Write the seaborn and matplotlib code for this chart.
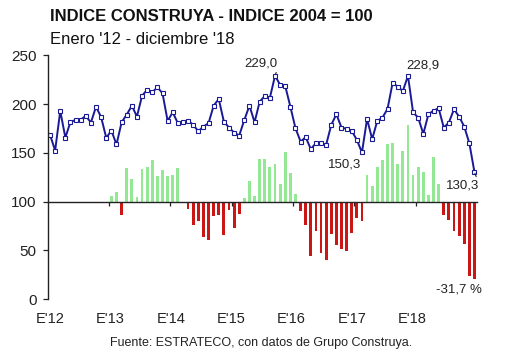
import matplotlib
matplotlib.use("Agg")
import matplotlib.pyplot as plt
import seaborn as sns
import numpy as np
import pandas as pd

# ---- data ----
index_values = [
    168.4, 152.3, 192.9, 165.6, 181.6, 183.7, 184.0, 187.8, 181.0, 197.3, 186.4, 165.3,
    172.8, 158.5, 181.3, 189.1, 198.3, 187.1, 208.5, 214.6, 211.9, 217.2, 210.9, 182.7,
    191.5, 180.3, 181.3, 183.0, 178.6, 172.1, 176.9, 180.3, 198.3, 205.1, 181.9, 175.9,
    170.7, 167.7, 183.7, 198.3, 181.3, 202.4, 208.2, 206.4, 229.0, 219.7, 218.4, 197.3,
    175.2, 161.5, 166.0, 153.8, 159.9, 159.9, 158.2, 178.6, 189.5, 175.9, 174.5, 172.4,
    163.3, 150.3, 184.7, 164.0, 182.7, 186.0, 194.9, 221.7, 217.7, 213.3, 228.9, 191.5,
    186.0, 169.4, 189.5, 193.2, 195.6, 175.9, 181.0, 194.6, 187.1, 176.9, 159.9, 130.3,
]
# year-on-year change (%), Jan 2013 - Dec 2018
pct_change = [
    2.3, 4.0, -5.7, 13.9, 9.1, 1.8, 13.2, 14.3, 17.0, 10.5, 12.9, 10.6,
    10.9, 13.9, -0.4, -3.1, -9.8, -7.9, -14.5, -15.9, -5.8, -5.4, -13.6, -3.4,
    -10.9, -5.0, 1.4, 8.4, 2.3, 17.3, 17.3, 14.3, 15.5, 7.2, 20.2, 11.6,
    3.1, -3.7, -9.5, -22.2, -12.2, -21.1, -23.8, -13.3, -17.7, -19.4, -20.1, -12.7,
    -6.8, -7.8, 10.9, 6.5, 14.3, 17.0, 23.6, 24.2, 15.4, 20.8, 31.3, 10.9,
    14.3, 12.0, 2.7, 18.4, 7.2, -5.4, -7.5, -12.0, -14.3, -17.4, -30.6, -31.7,
]
year_labels = ["E'12", "E'13", "E'14", "E'15", "E'16", "E'17", "E'18"]

months = np.arange(len(index_values))
bar_months = months[len(index_values) - len(pct_change):]

df_line = pd.DataFrame({"m": months, "v": index_values})
df_bar = pd.DataFrame({"m": bar_months, "p": pct_change})
df_bar["s"] = np.where(df_bar["p"] >= 0, "pos", "neg")

NAVY = "#1a1a96"
GREEN = "#93e893"
RED = "#cc1515"

sns.set_theme(style="white")
plt.rcParams["font.family"] = ["Liberation Sans", "DejaVu Sans"]

fig = plt.figure(figsize=(5.30, 3.54), dpi=100)
ax = fig.add_axes([0.091, 0.155, 0.809, 0.689])

# bars on the (hidden) percentage axis
sns.barplot(data=df_bar, x="m", y="p", hue="s", palette={"pos": GREEN, "neg": RED},
            native_scale=True, dodge=False, width=0.55, legend=False, ax=ax,
            linewidth=0, saturation=1)
ax.set_ylim(-40, 60)
ax.set_yticks([])
for s in ax.spines.values():
    s.set_visible(False)
ax.set_xlabel("")
ax.set_ylabel("")

# line on the index axis
ax2 = ax.twinx()
sns.lineplot(data=df_line, x="m", y="v", ax=ax2, color=NAVY, linewidth=1.4,
             marker="s", markersize=3.1, markerfacecolor="white",
             markeredgecolor=NAVY, markeredgewidth=0.8)
ax2.set_ylim(0, 250)
ax2.set_yticks([0, 50, 100, 150, 200, 250])
ax2.yaxis.tick_left()
ax2.yaxis.set_label_position("left")
ax2.set_ylabel("")
ax2.set_xlabel("")
for k in ["top", "right", "bottom"]:
    ax2.spines[k].set_visible(False)
ax2.spines["left"].set_visible(True)
ax2.spines["left"].set_color("#222222")
ax2.spines["left"].set_linewidth(1.0)
ax2.tick_params(axis="y", direction="out", length=3.5, width=0.9, color="#222222",
                labelsize=11, pad=5, left=True, right=False, labelcolor="#222222")

ax.set_xlim(-0.35, 83.5)
ax2.set_xlim(-0.35, 83.5)

# year labels at bottom
ax.set_xticks([k * 11.8 for k in range(len(year_labels))])
ax.set_xticklabels(year_labels)
ax.tick_params(axis="x", length=0, labelsize=10.5, pad=9, labelcolor="#222222", bottom=True)
ax2.tick_params(axis="x", bottom=False, labelbottom=False)

# baseline at 100 with year separators
sec = ax2.secondary_xaxis(0.4)
sec.set_xticks([12 * k - 0.5 for k in range(1, len(year_labels))])
sec.set_xticklabels([])
sec.tick_params(axis="x", direction="out", length=3, width=0.9, color="#222222")
sec.spines["bottom"].set_color("#222222")
sec.spines["bottom"].set_linewidth(1.0)
for k in ["top", "left", "right"]:
    sec.spines[k].set_visible(False)

# annotations
def fmt(v):
    return f"{v:.1f}".replace(".", ",")

i_max1 = int(np.argmax(index_values[:60]))
i_max2 = 60 + int(np.argmax(index_values[60:]))
i_min = 48 + int(np.argmin(index_values[48:72]))
i_last = len(index_values) - 1
ann_kw = dict(textcoords="offset points", fontsize=9.5, color="#222222",
              ha="center", va="center")
ax2.annotate(fmt(index_values[i_max1]), xy=(i_max1, index_values[i_max1]),
             xytext=(-10, 9), arrowprops=dict(arrowstyle="-", lw=0.8, color="#222222",
                                              shrinkA=0, shrinkB=1, relpos=(1.0, 0.1)),
             **ann_kw)
ax2.annotate(fmt(index_values[i_max2]), xy=(i_max2, index_values[i_max2]),
             xytext=(11, 7.5), **ann_kw)
ax2.annotate(fmt(index_values[i_min]), xy=(i_min, index_values[i_min]),
             xytext=(-12.5, -9), **ann_kw)
ax2.annotate(fmt(index_values[i_last]), xy=(i_last, index_values[i_last]),
             xytext=(-8.5, -10), arrowprops=dict(arrowstyle="-", lw=0.8, color="#222222",
                                                 shrinkA=0, shrinkB=1, relpos=(0.95, 0.95)),
             **ann_kw)
ax.annotate(fmt(pct_change[-1]) + " %", xy=(bar_months[-1], pct_change[-1]),
            xytext=(-11.5, -8), **ann_kw)

# titles
fig.text(0.094, 0.952, "INDICE CONSTRUYA - INDICE 2004 = 100", fontsize=12,
         fontweight="bold", ha="left", va="center", color="#111111")
fig.text(0.095, 0.889, "Enero '12 - diciembre '18", fontsize=12,
         ha="left", va="center", color="#111111")
fig.text(0.493, 0.031, "Fuente: ESTRATECO, con datos de Grupo Construya.", fontsize=9,
         ha="center", va="center", color="#222222")

fig.savefig("out.png", dpi=100)
